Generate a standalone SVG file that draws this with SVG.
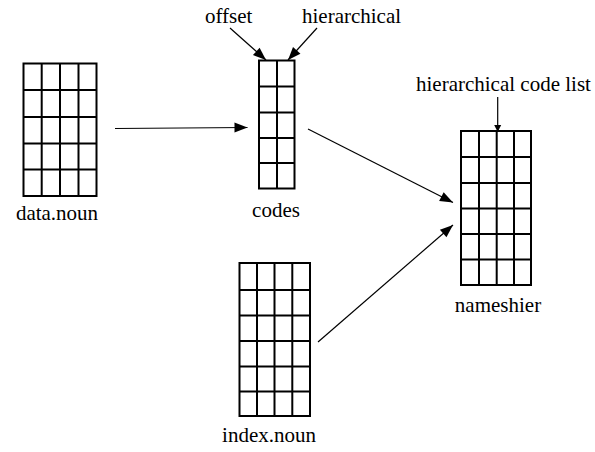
<svg xmlns="http://www.w3.org/2000/svg" width="595" height="452" viewBox="0 0 595 452">
<style>
.g{fill:#fff;stroke:#000;stroke-width:2}
.gl{stroke:#000;stroke-width:2;fill:none}
.c{stroke:#000;stroke-width:1.2;fill:none;marker-end:url(#ah)}
.cs{stroke:#000;stroke-width:1.2;fill:none;marker-end:url(#ahs)}
.t{font-family:'Liberation Serif','Tinos','Nimbus Roman','Nimbus Roman No9 L','FreeSerif','Times New Roman','Times','DejaVu Serif','Noto Serif',serif;font-size:21px;fill:#000}
</style>
<defs>
<marker id="ah" markerUnits="userSpaceOnUse" markerWidth="14" markerHeight="10" refX="13" refY="5" orient="auto" overflow="visible">
<path d="M0,0 L13,5 L0,10 z" fill="#000"/>
</marker>
<marker id="ahs" markerUnits="userSpaceOnUse" markerWidth="8" markerHeight="8" refX="7" refY="3.5" orient="auto" overflow="visible">
<path d="M0,0 L7,3.5 L0,7 z" fill="#000"/>
</marker>
</defs>
<rect width="595" height="452" fill="#fff"/>
<g id="data-noun">
<rect class="g" x="23.5" y="63.5" width="73" height="132.5"/>
<path class="gl" d="M41.7,63.5V196M60,63.5V196M78.5,63.5V196M23.5,90H96.5M23.5,117H96.5M23.5,143.5H96.5M23.5,169.5H96.5"/>
<text class="t" x="57" y="220" text-anchor="middle">data.noun</text>
</g>
<g id="codes">
<rect class="g" x="259" y="60.5" width="35.5" height="128"/>
<path class="gl" d="M277,60.5V188.5M259,86.5H294.5M259,112.5H294.5M259,138H294.5M259,163H294.5"/>
<text class="t" x="276" y="217" text-anchor="middle">codes</text>
</g>
<g id="nameshier">
<rect class="g" x="461" y="131" width="70" height="154"/>
<path class="gl" d="M479,131V285M496.7,131V285M514,131V285M461,157H531M461,183H531M461,208.5H531M461,234H531M461,259.5H531"/>
<text class="t" x="498" y="312" text-anchor="middle">nameshier</text>
</g>
<g id="index-noun">
<rect class="g" x="239.5" y="263" width="70.5" height="153"/>
<path class="gl" d="M257,263V416M274.5,263V416M292.3,263V416M239.5,290H310M239.5,315.5H310M239.5,341H310M239.5,366.5H310M239.5,391.5H310"/>
<text class="t" x="269" y="442" text-anchor="middle">index.noun</text>
</g>
<g id="label-offset"><text class="t" x="205" y="23">offset</text></g>
<g id="label-hierarchical"><text class="t" x="302" y="23">hierarchical</text></g>
<g id="label-hcl"><text class="t" x="416" y="91">hierarchical code list</text></g>
<g id="connectors">
<line class="c" x1="115" y1="128.5" x2="247.5" y2="127.5"/>
<line class="c" x1="230" y1="28" x2="266" y2="60"/>
<line class="c" x1="317" y1="28" x2="288" y2="60"/>
<line class="cs" x1="497.7" y1="97" x2="497.7" y2="132"/>
<line class="c" x1="308" y1="129" x2="453" y2="202.5"/>
<line class="c" x1="318" y1="342" x2="453" y2="225"/>
</g>
</svg>
